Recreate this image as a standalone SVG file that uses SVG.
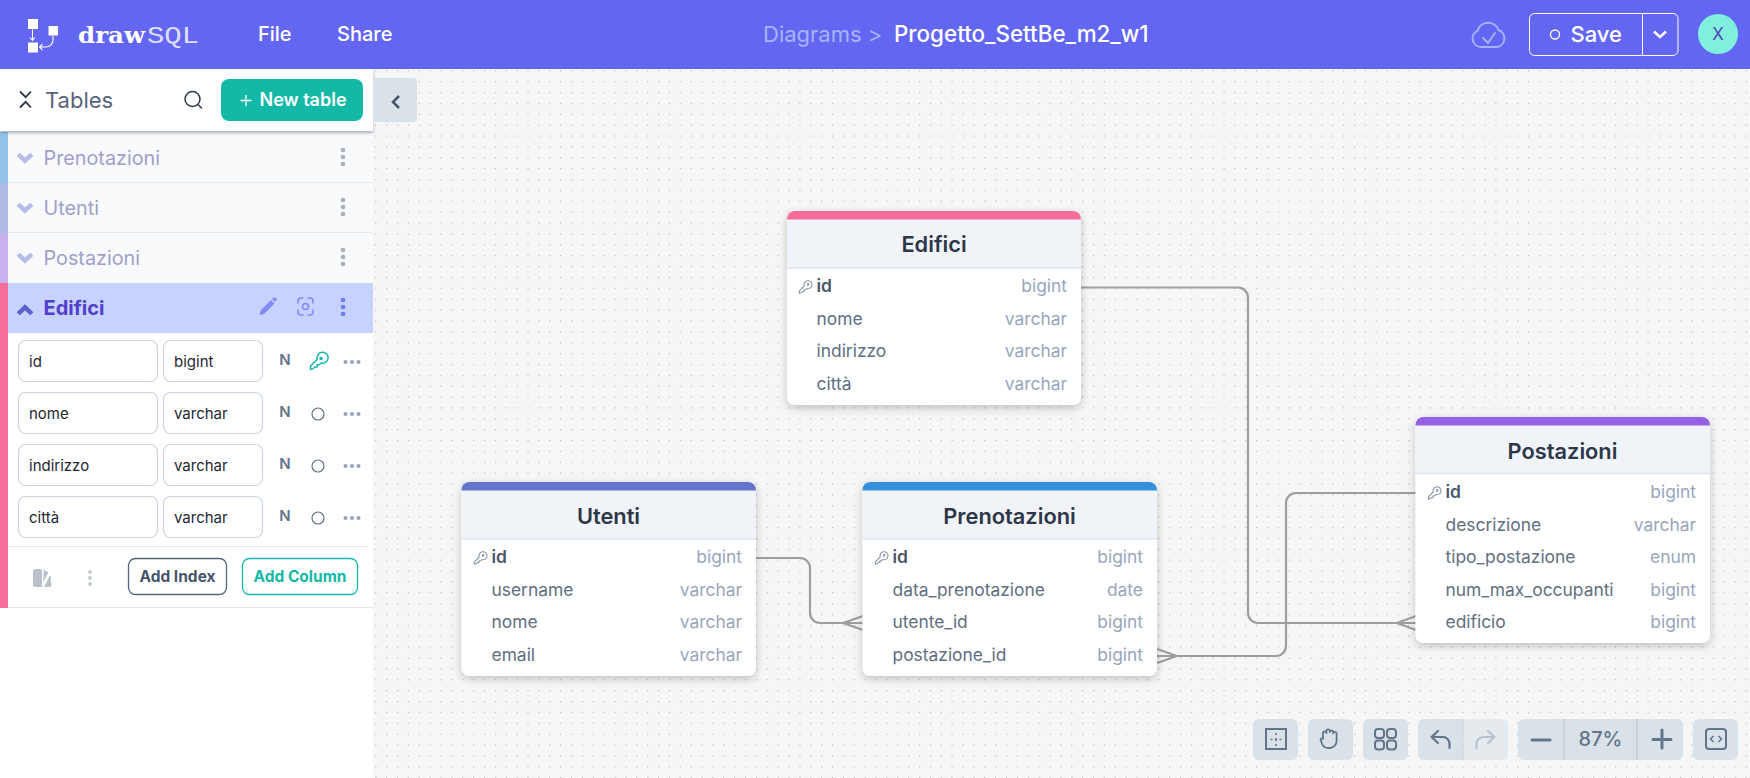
<svg xmlns="http://www.w3.org/2000/svg" width="1750" height="778" viewBox="0 0 1750 778">
<style>
text{font-family:Inter,"Noto Sans","Liberation Sans",sans-serif}
.title{font-size:21.800px;font-weight:600;fill:#2d3748;text-anchor:middle}
.pk{font-size:17.400px;font-weight:600;fill:#4a5568}
.col{font-size:17.400px;fill:#5f6f82}
.typ{font-size:17.400px;fill:#98a6bd;text-anchor:end}
.side{font-size:19.800px;fill:#a09fc9}
.inp{fill:#fff;stroke:#cbd5e0;stroke-width:1.2}
.itx{font-size:15px;fill:#1f2733}
.n{font-size:15px;font-weight:600;fill:#64748b;text-anchor:middle}
.circ{fill:none;stroke:#64748b;stroke-width:1.2}
.more{fill:#94a3b8}
.tb{fill:#d9e2e9}
.ico{fill:none;stroke:#64748b;stroke-width:2.2;stroke-linecap:round;stroke-linejoin:round}
.conn{fill:none;stroke:#9e9e9e;stroke-width:2.2}
.hd{font-size:20px;font-weight:500;fill:#fff}
</style>
<defs>
<pattern id="dots" x="375.2" y="70.2" width="10.875" height="10.875" patternUnits="userSpaceOnUse"><rect x="0" y="0" width="1.2" height="1.2" fill="#b5b5b5"/></pattern>
<filter id="sh" x="-10%" y="-10%" width="120%" height="125%"><feDropShadow dx="0" dy="3" stdDeviation="4" flood-color="#000" flood-opacity=".22"/></filter>
<filter id="sh2" x="-5%" y="-20%" width="110%" height="160%"><feDropShadow dx="0" dy="2" stdDeviation="1.5" flood-color="#475569" flood-opacity=".45"/></filter>
<g id="vd"><circle cx="0" cy="-7" r="2.3"/><circle cx="0" cy="0" r="2.3"/><circle cx="0" cy="7" r="2.3"/></g>
<g id="hd3"><circle cx="-6.5" cy="0" r="2"/><circle cx="0" cy="0" r="2"/><circle cx="6.5" cy="0" r="2"/></g>
<g id="k" fill="none" stroke="#8a97a8" stroke-width="1.1" stroke-linejoin="round"><path d="M-6.2 6.2l.1-2.4 4.8-4.8a4 4 0 1 1 2.6 2.6l-1.2 1.2h-1.6v1.6h-1.4l-1 1z"/><circle cx="2.6" cy="-2.6" r=".8"/></g>
<path id="chev" d="M-8-3l3-3 5 4.500 5-4.500 3 3-8 7.500z"/>
</defs>

<rect id="canvas" x="0" y="0" width="1750" height="778" fill="#f6f6f6"/>
<rect x="373" y="69" width="1377" height="709" fill="url(#dots)"/>

<g id="connectors" class="connectors">
<path class="conn" d="M1081 287.500H1238a10 10 0 0 1 10 10V613a10 10 0 0 0 10 10H1416M1397 623L1416 616M1397 623L1416 630"/>
<path class="conn" d="M1416 493H1296a10 10 0 0 0-10 10V646a10 10 0 0 1-10 10H1157M1177 656L1157 649M1177 656L1157 663"/>
<path class="conn" d="M756 558H800a10 10 0 0 1 10 10V613a10 10 0 0 0 10 10H863M843 623L863 616M843 623L863 630"/>
</g>

<g id="table-edifici">
<rect x="787" y="211" width="294" height="194" rx="8" fill="#fff" filter="url(#sh)"/>
<path d="M787 219V268H1081V219z" fill="#f0f4f9"/><path d="M787 268H1081" stroke="#dfe6ef" stroke-width="1.500"/>
<path d="M787 219.500v-.5a8 8 0 0 1 8-8H1073a8 8 0 0 1 8 8v.5z" fill="#f76d9a"/>
<text class="title" x="934" y="252">Edifici</text>
<use href="#k" x="805.500" y="287"/>
<text class="pk" x="816.500" y="292">id</text><text class="typ" x="1067" y="292">bigint</text>
<text class="col" x="816.500" y="325">nome</text><text class="typ" x="1067" y="325">varchar</text>
<text class="col" x="816.500" y="357">indirizzo</text><text class="typ" x="1067" y="357">varchar</text>
<text class="col" x="816.500" y="390">città</text><text class="typ" x="1067" y="390">varchar</text>
</g>

<g id="table-utenti">
<rect x="461.500" y="482" width="294.500" height="194" rx="8" fill="#fff" filter="url(#sh)"/>
<path d="M461.500 490V539H756V490z" fill="#f0f4f9"/><path d="M461.500 539H756" stroke="#dfe6ef" stroke-width="1.500"/>
<path d="M461.500 490.500v-.5a8 8 0 0 1 8-8H748a8 8 0 0 1 8 8v.5z" fill="#6574cd"/>
<text class="title" x="608.500" y="524">Utenti</text>
<use href="#k" x="480.500" y="558"/>
<text class="pk" x="491.500" y="563">id</text><text class="typ" x="742" y="563">bigint</text>
<text class="col" x="491.500" y="596">username</text><text class="typ" x="742" y="596">varchar</text>
<text class="col" x="491.500" y="628">nome</text><text class="typ" x="742" y="628">varchar</text>
<text class="col" x="491.500" y="661">email</text><text class="typ" x="742" y="661">varchar</text>
</g>

<g id="table-prenotazioni">
<rect x="862.500" y="482" width="294.500" height="194" rx="8" fill="#fff" filter="url(#sh)"/>
<path d="M862.500 490V539H1157V490z" fill="#f0f4f9"/><path d="M862.500 539H1157" stroke="#dfe6ef" stroke-width="1.500"/>
<path d="M862.500 490.500v-.5a8 8 0 0 1 8-8H1149a8 8 0 0 1 8 8v.5z" fill="#3490dc"/>
<text class="title" x="1009.500" y="524">Prenotazioni</text>
<use href="#k" x="881.500" y="558"/>
<text class="pk" x="892.500" y="563">id</text><text class="typ" x="1143" y="563">bigint</text>
<text class="col" x="892.500" y="596">data_prenotazione</text><text class="typ" x="1143" y="596">date</text>
<text class="col" x="892.500" y="628">utente_id</text><text class="typ" x="1143" y="628">bigint</text>
<text class="col" x="892.500" y="661">postazione_id</text><text class="typ" x="1143" y="661">bigint</text>
</g>

<g id="table-postazioni">
<rect x="1415.500" y="417" width="294.500" height="226" rx="8" fill="#fff" filter="url(#sh)"/>
<path d="M1415.500 425V474H1710V425z" fill="#f0f4f9"/><path d="M1415.500 473.500H1710" stroke="#dfe6ef" stroke-width="1.500"/>
<path d="M1415.500 425.500v-.5a8 8 0 0 1 8-8H1702a8 8 0 0 1 8 8v.5z" fill="#9561e2"/>
<text class="title" x="1562.500" y="459">Postazioni</text>
<use href="#k" x="1434.500" y="493"/>
<text class="pk" x="1445.500" y="498">id</text><text class="typ" x="1696" y="498">bigint</text>
<text class="col" x="1445.500" y="531">descrizione</text><text class="typ" x="1696" y="531">varchar</text>
<text class="col" x="1445.500" y="563">tipo_postazione</text><text class="typ" x="1696" y="563">enum</text>
<text class="col" x="1445.500" y="596">num_max_occupanti</text><text class="typ" x="1696" y="596">bigint</text>
<text class="col" x="1445.500" y="628">edificio</text><text class="typ" x="1696" y="628">bigint</text>
</g>

<g id="sidebar">
<rect x="0" y="69" width="373" height="709" fill="#fff"/>
<rect x="0" y="132" width="373" height="151" fill="#f8fafc"/>
<path d="M8 182.500H373M8 232.500H373" stroke="#e7ebf0" stroke-width="1"/>
<rect x="8" y="283" width="365" height="50" fill="#c7d2fe"/>
<rect x="0" y="132" width="8" height="51" fill="#93c5ec"/>
<rect x="0" y="183" width="8" height="50" fill="#b0b8e4"/>
<rect x="0" y="233" width="8" height="50" fill="#c9b1ee"/>
<rect x="0" y="283" width="8" height="325" fill="#f76d9a"/>
<path d="M8 607.500H373" stroke="#e2e8f0" stroke-width="1"/>
<path d="M8 546.500H368" stroke="#e2e8f0" stroke-width="1"/>

<g id="row-prenotazioni"><use href="#chev" transform="translate(25 159) scale(1.050)" fill="#b6bce8"/><text class="side" x="43.500" y="165">Prenotazioni</text><use href="#vd" x="343" y="157" fill="#a8b0c0"/></g>
<g id="row-utenti"><use href="#chev" transform="translate(25 209) scale(1.050)" fill="#b6bce8"/><text class="side" x="43.500" y="215">Utenti</text><use href="#vd" x="343" y="207" fill="#a8b0c0"/></g>
<g id="row-postazioni"><use href="#chev" transform="translate(25 259) scale(1.050)" fill="#b6bce8"/><text class="side" x="43.500" y="265">Postazioni</text><use href="#vd" x="343" y="257" fill="#a8b0c0"/></g>
<g id="row-edifici">
<use href="#chev" transform="translate(25 309) scale(1.050 -1.050)" fill="#5a63c8"/>
<text x="43.500" y="315" font-size="20" font-weight="700" fill="#4f3fcb">Edifici</text>
<path d="M259.500 315l1-4.500 10.500-10.500 3.500 3.500-10.500 10.500z M272.500 298.500l1.500-1 2 .3 .8 1.800-1 1.500-.8.800-3.500-3.500z" fill="#818cf8"/>
<g fill="none" stroke="#818cf8" stroke-width="1.600" stroke-linecap="round"><path d="M298 303v-2a3 3 0 0 1 3-3h2M308 298h2a3 3 0 0 1 3 3v2M313 310v2a3 3 0 0 1-3 3h-2M303 315h-2a3 3 0 0 1-3-3v-2"/><circle cx="305.500" cy="306.500" r="3"/></g>
<use href="#vd" x="343" y="307" fill="#6f7cf3"/>
</g>

<g id="col-id"><rect class="inp" x="18.500" y="340.500" width="139" height="41" rx="7"/><rect class="inp" x="163.500" y="340.500" width="99" height="41" rx="7"/><text class="itx" x="29" y="367">id</text><text class="itx" x="174" y="367">bigint</text><text class="n" x="285" y="365">N</text>
<g fill="none" stroke="#14b8a6" stroke-width="1.500" stroke-linejoin="round"><path d="M310.500 369.500v-3.500l6.800-6.800a5.500 5.500 0 1 1 3.800 3.800l-1.800 1.800h-2.200v2.200h-2.200l-1.500 1.500a3 3 0 0 1-1.500.6z"/><circle cx="321" cy="358.500" r="1"/></g>
<use href="#hd3" x="352" y="362" class="more"/></g>
<g id="col-nome"><rect class="inp" x="18.500" y="392.500" width="139" height="41" rx="7"/><rect class="inp" x="163.500" y="392.500" width="99" height="41" rx="7"/><text class="itx" x="29" y="419">nome</text><text class="itx" x="174" y="419">varchar</text><text class="n" x="285" y="417">N</text><circle class="circ" cx="318" cy="414" r="6"/><use href="#hd3" x="352" y="414" class="more"/></g>
<g id="col-indirizzo"><rect class="inp" x="18.500" y="444.500" width="139" height="41" rx="7"/><rect class="inp" x="163.500" y="444.500" width="99" height="41" rx="7"/><text class="itx" x="29" y="471">indirizzo</text><text class="itx" x="174" y="471">varchar</text><text class="n" x="285" y="469">N</text><circle class="circ" cx="318" cy="466" r="6"/><use href="#hd3" x="352" y="466" class="more"/></g>
<g id="col-citta"><rect class="inp" x="18.500" y="496.500" width="139" height="41" rx="7"/><rect class="inp" x="163.500" y="496.500" width="99" height="41" rx="7"/><text class="itx" x="29" y="523">città</text><text class="itx" x="174" y="523">varchar</text><text class="n" x="285" y="521">N</text><circle class="circ" cx="318" cy="518" r="6"/><use href="#hd3" x="352" y="518" class="more"/></g>

<g id="sidebar-actions">
<path d="M35 569h5a2 2 0 0 1 2 2v16h-7a2 2 0 0 1-2-2v-14a2 2 0 0 1 2-2z" fill="#b8c2cc"/>
<path d="M43.500 570l5 2-5 10zM44 587l5.500-11 1.500.5 0 2 0 0 0 0 0 0 0 0 0 0z" fill="#b8c2cc"/>
<path d="M44 587l6-8 .5 0 1 6a2 2 0 0 1-2 2z" fill="#b8c2cc"/>
<use href="#vd" transform="translate(90 578) scale(.8 .85)" fill="#c0c8d2"/>
<rect x="128.500" y="558.500" width="98" height="36" rx="7" fill="#fff" stroke="#566479" stroke-width="1.300"/>
<text x="177.500" y="582" font-size="15.500" font-weight="700" fill="#475569" text-anchor="middle">Add Index</text>
<rect x="242.500" y="558.500" width="115" height="36" rx="7" fill="#fff" stroke="#14b8a6" stroke-width="1.300"/>
<text x="300" y="582" font-size="15.500" font-weight="700" fill="#14b8a6" text-anchor="middle">Add Column</text>
</g>
</g>

<g id="tables-header">
<rect x="0" y="69" width="373" height="62" fill="#fff" filter="url(#sh2)"/>
<path d="M20 91.500l5.700 5.700 5.300-5.700M20 107.500l5.700-5.700 5.300 5.700" fill="none" stroke="#2d3748" stroke-width="1.800"/>
<text x="45" y="108" font-size="22" fill="#566479">Tables</text>
<circle cx="192.500" cy="99" r="7.500" fill="none" stroke="#2d3748" stroke-width="1.500"/><path d="M198 104.500l4 4" stroke="#2d3748" stroke-width="1.500"/>
<rect x="221" y="79" width="142" height="42" rx="8" fill="#14b8a6"/>
<path d="M246 95v11M240.500 100.500h11" stroke="#fff" stroke-width="1.300"/>
<text x="259.500" y="106" font-size="18" font-weight="600" fill="#fff">New table</text>
</g>

<g id="collapse">
<path d="M373 78h40a4 4 0 0 1 4 4v36a4 4 0 0 1-4 4h-40z" class="tb"/>
<path d="M399 96l-6 6 6 6" fill="none" stroke="#475569" stroke-width="2.500"/>
</g>

<g id="topbar">
<rect x="0" y="0" width="1750" height="69" fill="#6366f1"/>
<g id="logo">
<rect x="28" y="19" width="10" height="10" fill="#fff"/><rect x="28" y="42.500" width="10" height="10" fill="#fff"/><rect x="48.500" y="26" width="9.500" height="9.500" fill="#fff"/>
<path d="M32.500 29.500V40M30 37.500l2.500 3 2.500-3M53 36v4a7 7 0 0 1-7 7h-6M42.500 44l-3 3 3 3" fill="none" stroke="#fff" stroke-width="1.100"/>
<text x="78" y="43" style="font-family:'DejaVu Serif',serif" font-size="22" font-weight="700" fill="#fff" textLength="67" lengthAdjust="spacingAndGlyphs">draw</text>
<text x="147" y="43" style="font-family:'Liberation Mono',monospace" font-size="24" fill="#dfe0ff" textLength="52" lengthAdjust="spacingAndGlyphs">SQL</text>
</g>
<text class="hd" x="258" y="41">File</text>
<text class="hd" x="337" y="41">Share</text>
<text x="763" y="42" font-size="22" fill="#a5b4fc">Diagrams &gt;</text>
<text x="894" y="42" font-size="22.400" font-weight="500" fill="#fff">Progetto_SettBe_m2_w1</text>
<g id="cloud" fill="none" stroke="#a5b4fc" stroke-width="2" stroke-linejoin="round" stroke-linecap="round">
<path d="M1481 47a8.500 8.500 0 0 1-3.500-16.200A11 11 0 0 1 1498.500 30A8.800 8.800 0 0 1 1497 47z"/><path d="M1483 38l5 5 7-10"/>
</g>
<g id="save">
<rect x="1529.500" y="13.500" width="148.500" height="42" rx="5" fill="none" stroke="#fff" stroke-width="1"/>
<path d="M1642.500 13.500V55.500" stroke="#fff" stroke-width="1"/>
<circle cx="1555" cy="34.500" r="4.500" fill="none" stroke="#fff" stroke-width="1.300"/>
<text x="1570.500" y="42" font-size="22" font-weight="500" fill="#fff">Save</text>
<path d="M1654 31.500l6 5.500 6-5.500" fill="none" stroke="#fff" stroke-width="2.400"/>
</g>
<g id="avatar"><circle cx="1718" cy="34" r="20" fill="#81efde"/><text x="1718" y="40" font-size="17" fill="#5046b8" text-anchor="middle">X</text></g>
</g>

<g id="toolbar">
<rect class="tb" x="1253" y="719" width="45" height="41" rx="6"/>
<rect class="tb" x="1308" y="719" width="45" height="41" rx="6"/>
<rect class="tb" x="1363" y="719" width="45" height="41" rx="6"/>
<path class="tb" d="M1424 719h39v41h-39a6 6 0 0 1-6-6v-29a6 6 0 0 1 6-6z"/>
<path d="M1464 719h38a6 6 0 0 1 6 6v29a6 6 0 0 1-6 6h-38z" fill="#e4eaee"/>
<path d="M1463 719v41" stroke="#c3ced8"/>
<rect class="tb" x="1518" y="719" width="165" height="41" rx="6"/>
<path d="M1564 719v41M1637 719v41" stroke="#c3ced8" stroke-width="1.500"/>
<rect class="tb" x="1693" y="719" width="45" height="41" rx="6"/>
<rect x="1266" y="729" width="20" height="20" fill="none" stroke="#64748b" stroke-width="2"/>
<path d="M1276 733v2M1276 738v3M1276 744v2M1270.500 739.500h2M1275 739.500h2M1279.500 739.500h2" stroke="#64748b" stroke-width="1.500"/>
<path class="ico" d="M1323 739v-6a1.700 1.700 0 0 1 3.400 0v-2a1.700 1.700 0 0 1 3.400 0v1a1.700 1.700 0 0 1 3.400 0v1.500a1.700 1.700 0 0 1 3.400 0V741a7 7 0 0 1-7 7h-1.500a6.500 6.500 0 0 1-6-4l-1.500-4a1.500 1.500 0 0 1 2.400-1.500z" style="stroke-width:1.800"/>
<g class="ico" style="stroke-width:2"><rect x="1375" y="729" width="9" height="9" rx="3"/><rect x="1387" y="729" width="9" height="9" rx="3"/><rect x="1375" y="740.500" width="9" height="9" rx="3"/><rect x="1387" y="740.500" width="9" height="9" rx="3"/></g>
<path class="ico" d="M1438 731l-6.500 6 6.500 6M1432 737h11a6.500 6.500 0 0 1 6.500 6.500v4.500" style="stroke-width:2.200"/>
<path class="ico" d="M1488 731l6.500 6-6.500 6M1494 737h-11a6.500 6.500 0 0 0-6.500 6.500v4.500" style="stroke:#b8c3ce"/>
<path d="M1532 740h18M1662 730v18M1653 739.500h18" stroke="#64748b" stroke-width="3" stroke-linecap="round"/>
<text x="1600.500" y="746" font-size="20" font-weight="500" fill="#64748b" text-anchor="middle">87%</text>
<rect x="1706" y="729" width="20" height="20" rx="3" fill="none" stroke="#64748b" stroke-width="2"/>
<path d="M1713.500 736l-3 3 3 3M1718.500 736l3 3-3 3" fill="none" stroke="#64748b" stroke-width="1.500"/>
</g>
</svg>
